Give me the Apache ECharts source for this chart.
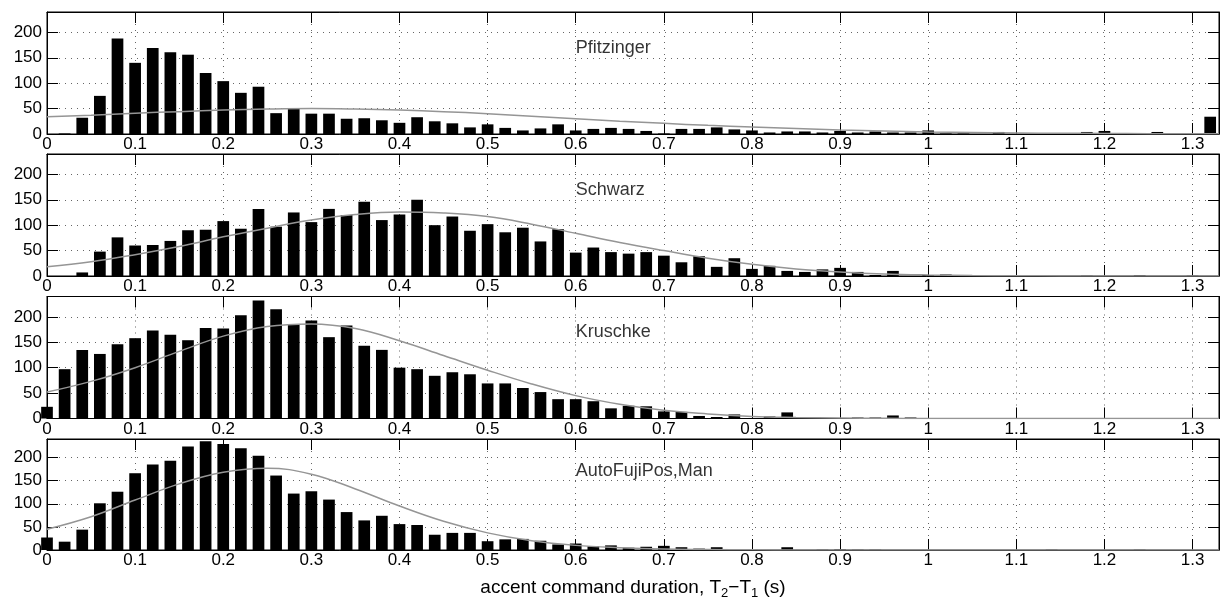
<!DOCTYPE html>
<html>
<head>
<meta charset="utf-8">
<script src="https://cdn.jsdelivr.net/npm/echarts@6/dist/echarts.min.js"></script>
<style>
html,body{margin:0;padding:0;background:#fff;}
#chart{width:1221px;height:601px;}
</style>
</head>
<body>
<div id="chart"></div>
<script>
// Bin centres (s)
const BINS = [0,0.02,0.04,0.06,0.08,0.1,0.12,0.14,0.16,0.18,
  0.2,0.22,0.24,0.26,0.28,0.3,0.32,0.34,0.36,0.38,
  0.4,0.42,0.44,0.46,0.48,0.5,0.52,0.54,0.56,0.58,
  0.6,0.62,0.64,0.66,0.68,0.7,0.72,0.74,0.76,0.78,
  0.8,0.82,0.84,0.86,0.88,0.9,0.92,0.94,0.96,0.98,
  1,1.02,1.04,1.06,1.08,1.1,1.12,1.14,1.16,1.18,
  1.2,1.22,1.24,1.26,1.28,1.3,1.32];

const PANEL_NAMES = ['Pfitzinger', 'Schwarz', 'Kruschke', 'AutoFujiPos,Man'];

const PFITZINGER = [0,1,32,75,188,140,169,161,156,120,
  104,81,93,41,51,40,40,30,31,27,
  22,33,25,21,13,19,12,7,11,19,
  7,10,12,10,6,1,10,10,13,9,
  7,3,5,5,3,6,3,5,3,3,
  7,1,1,0,4,0,0,0,2,4,
  6,0,2,4,2,0,34];

const SCHWARZ = [0,0,7,48,76,60,61,69,90,91,
  108,93,132,97,125,106,132,120,146,110,
  121,150,100,117,89,102,86,95,68,92,
  46,56,47,44,47,40,27,39,18,35,
  14,20,10,8,13,16,8,2,10,0,
  2,3,1,1,1,0,0,0,0,1,
  0,0,2,0,0,1,0];

const KRUSCHKE = [23,97,135,127,146,158,173,165,154,178,
  177,203,232,215,184,193,160,183,143,135,
  100,97,84,91,87,69,69,60,52,38,
  38,34,20,25,24,14,13,5,3,8,
  1,4,12,2,0,0,2,2,6,2,
  0,1,1,0,0,0,0,0,0,0,
  1,0,1,0,0,0,0];

const AUTOFUJI = [27,18,44,101,126,166,185,193,224,235,
  229,220,204,161,122,127,109,82,64,74,
  56,54,33,37,37,19,23,24,20,12,
  14,8,10,5,7,9,6,3,6,1,
  1,0,6,0,1,2,1,1,0,0,
  0,0,0,0,0,0,0,1,0,0,
  0,0,1,0,0,0,0];

// Fitted curves
const CURVE_X = [0,0.05,0.1,0.15,0.2,0.25,0.3,0.35,0.4,0.45,0.5,0.55,0.6,0.65,0.7,0.75,0.8,0.85,0.9,0.95,1,1.05,1.1,1.15,1.2,1.25,1.3,1.33];
const FIT_P = [34,37,41,44,47,49,50,49,47,44,40,35,30,25,21,17,14,11,8,6,4,3,2,1.5,1,0.6,0.4,0.3];
const FIT_S = [18,28,42,58,77,94,110,121,126,124,117,102,84,66,50,35,23,14,8,4,2,1,0.5,0.2,0.1,0,0,0];
const FIT_K = [52,73,100,132,162,181,186,177,153,124,95,68,45,28,16,9,4,2,1,0.4,0.1,0,0,0,0,0,0,0];
const FIT_A = [45,72,108,143,168,177,164,132,95,62,37,20,10,5,2,1,0.4,0.1,0,0,0,0,0,0,0,0,0,0];

const X_TICKS = [0,0.1,0.2,0.3,0.4,0.5,0.6,0.7,0.8,0.9,1,1.1,1.2,1.3];
const Y_TICKS = [0,50,100,150,200];

const HIST = [PFITZINGER, SCHWARZ, KRUSCHKE, AUTOFUJI];
const FITS = [FIT_P, FIT_S, FIT_K, FIT_A];

const FONT = '"Liberation Sans", Arial, Helvetica, sans-serif';
const TOPS = [12, 154, 296.5, 439];
const PANEL_H = 122;

const grids = [], xAxes = [], yAxes = [], series = [];

function xFmt(v) {
  for (const t of X_TICKS) if (Math.abs(t - v) < 1e-6) return String(t);
  return '';
}
function yFmt(v) {
  for (const t of Y_TICKS) if (Math.abs(t - v) < 1e-6) return String(t);
  return '';
}

PANEL_NAMES.forEach((name, i) => {
  grids.push({
    left: 47, right: 2, top: TOPS[i], height: PANEL_H,
    show: true, borderColor: '#000', borderWidth: 1, backgroundColor: 'transparent'
  });
  const xBase = {
    gridIndex: i, type: 'value', min: 0, max: 1.33, interval: 0.1,
    axisLine: { show: true, onZero: false, lineStyle: { color: '#000', width: 1 } },
    axisTick: { show: true, inside: true, length: 11, lineStyle: { color: '#000', width: 1 } }
  };
  const bottom = Object.assign({}, xBase, {
    position: 'bottom',
    axisLabel: { show: true, color: '#000', fontSize: 17, fontFamily: FONT, margin: 2,
      showMaxLabel: false, formatter: xFmt },
    splitLine: { show: true, lineStyle: { color: '#666', width: 1, type: [1, 5] } }
  });
  if (i === PANEL_NAMES.length - 1) {
    bottom.name = '{a|accent command duration, T}{s|2}{a|\u2212T}{s|1}{a| (s)}';
    bottom.nameLocation = 'middle';
    bottom.nameGap = 28;
    bottom.nameTextStyle = {
      color: '#000', fontFamily: FONT,
      rich: {
        a: { fontSize: 19, fontFamily: FONT, color: '#000', lineHeight: 22, verticalAlign: 'top' },
        s: { fontSize: 13, fontFamily: FONT, color: '#000', lineHeight: 13, verticalAlign: 'bottom', padding: [12, 0, 0, 0] }
      }
    };
  }
  xAxes.push(bottom);
  xAxes.push(Object.assign({}, xBase, {
    position: 'top',
    axisLabel: { show: false },
    splitLine: { show: false }
  }));

  const yBase = {
    gridIndex: i, type: 'value', min: 0, max: 240, interval: 50,
    axisLine: { show: true, onZero: false, lineStyle: { color: '#000', width: 1 } },
    axisTick: { show: true, inside: true, length: 11, lineStyle: { color: '#000', width: 1 } }
  };
  yAxes.push(Object.assign({}, yBase, {
    position: 'left',
    axisLabel: { show: true, color: '#000', fontSize: 17, fontFamily: FONT, margin: 5,
      showMaxLabel: false, formatter: yFmt },
    splitLine: { show: true, lineStyle: { color: '#666', width: 1, type: [1, 5] } }
  }));
  yAxes.push(Object.assign({}, yBase, {
    position: 'right',
    axisLabel: { show: false },
    splitLine: { show: false }
  }));

  series.push({
    type: 'bar', xAxisIndex: 2 * i, yAxisIndex: 2 * i,
    data: BINS.map((b, k) => [b, HIST[i][k]]),
    barWidth: 11.7, clip: true, silent: true,
    itemStyle: { color: '#000' }, z: 2
  });
  series.push({
    type: 'line', xAxisIndex: 2 * i, yAxisIndex: 2 * i,
    data: CURVE_X.map((x, k) => [x, FITS[i][k]]),
    smooth: 0.4, showSymbol: false, symbol: 'none', clip: true, silent: true,
    lineStyle: { color: '#959595', width: 1.5 }, z: 3
  });
  series.push({
    type: 'scatter', xAxisIndex: 2 * i, yAxisIndex: 2 * i,
    data: [[0.6, 170]], symbolSize: 0, silent: true, z: 4,
    label: { show: true, position: 'right', distance: 0, formatter: name,
      color: '#000', fontSize: 18, fontFamily: FONT }
  });
});

const chart = echarts.init(document.getElementById('chart'), null, { renderer: 'canvas' });
chart.setOption({
  animation: false,
  backgroundColor: '#fff',
  textStyle: { fontFamily: FONT },
  grid: grids,
  xAxis: xAxes,
  yAxis: yAxes,
  series: series
});
</script>
</body>
</html>
